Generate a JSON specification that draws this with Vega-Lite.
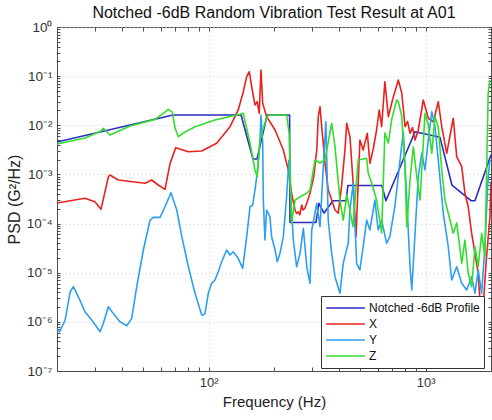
{
  "$schema": "https://vega.github.io/schema/vega-lite/v6.json",
  "width": 434,
  "height": 344,
  "autosize": "none",
  "padding": {"left": 57, "top": 27, "right": 1, "bottom": 49},
  "background": "white",
  "config": {
    "font": "Liberation Sans",
    "view": {"stroke": "#4d4d4d", "strokeWidth": 1}
  },
  "title": {
    "text": "Notched -6dB Random Vibration Test Result at A01",
    "fontSize": 16,
    "fontWeight": "normal",
    "color": "#111111",
    "font": "Liberation Sans",
    "offset": -1
  },
  "data": {"values": [
    {"s":"Notched -6dB Profile","f":20,"p":0.00457},
    {"s":"Notched -6dB Profile","f":68.5,"p":0.0162},
    {"s":"Notched -6dB Profile","f":141,"p":0.0162},
    {"s":"Notched -6dB Profile","f":160,"p":0.00206},
    {"s":"Notched -6dB Profile","f":167,"p":0.00206},
    {"s":"Notched -6dB Profile","f":186,"p":0.0162},
    {"s":"Notched -6dB Profile","f":236,"p":0.0162},
    {"s":"Notched -6dB Profile","f":237,"p":0.000105},
    {"s":"Notched -6dB Profile","f":312,"p":0.000105},
    {"s":"Notched -6dB Profile","f":322,"p":0.000258},
    {"s":"Notched -6dB Profile","f":340,"p":0.000164},
    {"s":"Notched -6dB Profile","f":374,"p":0.000292},
    {"s":"Notched -6dB Profile","f":430,"p":0.000292},
    {"s":"Notched -6dB Profile","f":438,"p":0.000595},
    {"s":"Notched -6dB Profile","f":628,"p":0.000595},
    {"s":"Notched -6dB Profile","f":656,"p":0.000292},
    {"s":"Notched -6dB Profile","f":893,"p":0.0074},
    {"s":"Notched -6dB Profile","f":1164,"p":0.00569},
    {"s":"Notched -6dB Profile","f":1321,"p":0.000609},
    {"s":"Notched -6dB Profile","f":1618,"p":0.000292},
    {"s":"Notched -6dB Profile","f":1687,"p":0.000292},
    {"s":"Notched -6dB Profile","f":2000,"p":0.0025},

    {"s":"X","f":20,"p":0.000262},
    {"s":"X","f":26.9,"p":0.000327},
    {"s":"X","f":29.9,"p":0.000279},
    {"s":"X","f":31.9,"p":0.000195},
    {"s":"X","f":34.5,"p":0.000899},
    {"s":"X","f":35.1,"p":0.000973},
    {"s":"X","f":38.3,"p":0.00077},
    {"s":"X","f":50.9,"p":0.000659},
    {"s":"X","f":54.6,"p":0.00077},
    {"s":"X","f":58.6,"p":0.000609},
    {"s":"X","f":62.9,"p":0.000498},
    {"s":"X","f":66.4,"p":0.00168},
    {"s":"X","f":70.5,"p":0.0035},
    {"s":"X","f":80.6,"p":0.0029},
    {"s":"X","f":92.9,"p":0.003},
    {"s":"X","f":108.8,"p":0.0043},
    {"s":"X","f":125.4,"p":0.00936},
    {"s":"X","f":136.8,"p":0.0205},
    {"s":"X","f":144.4,"p":0.0482},
    {"s":"X","f":149.7,"p":0.0975},
    {"s":"X","f":153.9,"p":0.123},
    {"s":"X","f":157.8,"p":0.061},
    {"s":"X","f":163.4,"p":0.0259},
    {"s":"X","f":167.4,"p":0.0302},
    {"s":"X","f":171,"p":0.0175},
    {"s":"X","f":174.2,"p":0.133},
    {"s":"X","f":177.4,"p":0.028},
    {"s":"X","f":184.9,"p":0.015},
    {"s":"X","f":202.3,"p":0.00802},
    {"s":"X","f":220.8,"p":0.00314},
    {"s":"X","f":232.8,"p":0.00123},
    {"s":"X","f":241.1,"p":0.000413},
    {"s":"X","f":250,"p":0.000189},
    {"s":"X","f":254,"p":0.00016},
    {"s":"X","f":258.8,"p":0.000174},
    {"s":"X","f":263,"p":0.00015},
    {"s":"X","f":268.5,"p":0.000239},
    {"s":"X","f":272,"p":0.00019},
    {"s":"X","f":278,"p":0.000207},
    {"s":"X","f":285,"p":0.00028},
    {"s":"X","f":293.1,"p":0.000413},
    {"s":"X","f":305,"p":0.0009},
    {"s":"X","f":314.8,"p":0.00314},
    {"s":"X","f":319.9,"p":0.015},
    {"s":"X","f":325.8,"p":0.0239},
    {"s":"X","f":331.9,"p":0.00936},
    {"s":"X","f":343.6,"p":0.00168},
    {"s":"X","f":355.6,"p":0.000482},
    {"s":"X","f":368.9,"p":0.000301},
    {"s":"X","f":382,"p":0.000189},
    {"s":"X","f":395.4,"p":0.000162},
    {"s":"X","f":410,"p":0.0006},
    {"s":"X","f":424.6,"p":0.00314},
    {"s":"X","f":432.5,"p":0.011},
    {"s":"X","f":447.7,"p":0.00586},
    {"s":"X","f":463.4,"p":0.000659},
    {"s":"X","f":477.5,"p":0.0000541},
    {"s":"X","f":497.7,"p":0.00501},
    {"s":"X","f":515.2,"p":0.00314},
    {"s":"X","f":538.3,"p":0.00687},
    {"s":"X","f":553.4,"p":0.00168},
    {"s":"X","f":572,"p":0.00314},
    {"s":"X","f":594.2,"p":0.00802},
    {"s":"X","f":611,"p":0.0205},
    {"s":"X","f":626.6,"p":0.00936},
    {"s":"X","f":648.6,"p":0.0771},
    {"s":"X","f":672.9,"p":0.015},
    {"s":"X","f":709.6,"p":0.0382},
    {"s":"X","f":748.2,"p":0.0834},
    {"s":"X","f":776.2,"p":0.0448},
    {"s":"X","f":803.5,"p":0.00936},
    {"s":"X","f":825,"p":0.012},
    {"s":"X","f":847.2,"p":0.00687},
    {"s":"X","f":870,"p":0.009},
    {"s":"X","f":893.3,"p":0.00501},
    {"s":"X","f":924.7,"p":0.00802},
    {"s":"X","f":975,"p":0.0327},
    {"s":"X","f":1028,"p":0.0139},
    {"s":"X","f":1084,"p":0.0118},
    {"s":"X","f":1143,"p":0.0302},
    {"s":"X","f":1186,"p":0.00936},
    {"s":"X","f":1250,"p":0.00269},
    {"s":"X","f":1340,"p":0.0139},
    {"s":"X","f":1390,"p":0.0023},
    {"s":"X","f":1466,"p":0.00144},
    {"s":"X","f":1517,"p":0.000413},
    {"s":"X","f":1570,"p":0.00022},
    {"s":"X","f":1629,"p":0.0000634},
    {"s":"X","f":1687,"p":0.0000248},
    {"s":"X","f":1746,"p":0.00000972},
    {"s":"X","f":1778,"p":0.00000278},
    {"s":"X","f":1841,"p":0.00000203},
    {"s":"X","f":1900,"p":0.0000167},
    {"s":"X","f":1977,"p":0.000138},
    {"s":"X","f":2000,"p":0.00067},

    {"s":"Y","f":20,"p":0.000000715},
    {"s":"Y","f":20.6,"p":0.00000063},
    {"s":"Y","f":21.8,"p":0.00000109},
    {"s":"Y","f":23,"p":0.0000041},
    {"s":"Y","f":23.8,"p":0.00000519},
    {"s":"Y","f":25.5,"p":0.00000278},
    {"s":"Y","f":26.9,"p":0.00000161},
    {"s":"Y","f":28.9,"p":0.00000109},
    {"s":"Y","f":31.6,"p":0.00000063},
    {"s":"Y","f":32.7,"p":0.000000934},
    {"s":"Y","f":34.5,"p":0.00000203},
    {"s":"Y","f":36.3,"p":0.00000149},
    {"s":"Y","f":39,"p":0.00000101},
    {"s":"Y","f":41.9,"p":0.000000834},
    {"s":"Y","f":44.2,"p":0.00000118},
    {"s":"Y","f":46.6,"p":0.00000519},
    {"s":"Y","f":50,"p":0.000029},
    {"s":"Y","f":53.7,"p":0.000118},
    {"s":"Y","f":55.6,"p":0.000134},
    {"s":"Y","f":59.7,"p":0.000134},
    {"s":"Y","f":62.9,"p":0.00022},
    {"s":"Y","f":67,"p":0.000425},
    {"s":"Y","f":71.3,"p":0.000189},
    {"s":"Y","f":75.2,"p":0.0000541},
    {"s":"Y","f":80.6,"p":0.0000132},
    {"s":"Y","f":86.5,"p":0.00000381},
    {"s":"Y","f":92.9,"p":0.00000138},
    {"s":"Y","f":94.4,"p":0.00000138},
    {"s":"Y","f":96.2,"p":0.00000149},
    {"s":"Y","f":99.6,"p":0.00000381},
    {"s":"Y","f":103.2,"p":0.00000608},
    {"s":"Y","f":106.9,"p":0.0000071},
    {"s":"Y","f":110.7,"p":0.0000105},
    {"s":"Y","f":114.8,"p":0.0000167},
    {"s":"Y","f":121,"p":0.000029},
    {"s":"Y","f":125.4,"p":0.0000229},
    {"s":"Y","f":129.8,"p":0.0000267},
    {"s":"Y","f":136.8,"p":0.0000196},
    {"s":"Y","f":143.5,"p":0.0000123},
    {"s":"Y","f":149.7,"p":0.0000541},
    {"s":"Y","f":155,"p":0.00022},
    {"s":"Y","f":159.5,"p":0.000239},
    {"s":"Y","f":163.4,"p":0.000482},
    {"s":"Y","f":167.4,"p":0.00105},
    {"s":"Y","f":172.2,"p":0.0043},
    {"s":"Y","f":174.2,"p":0.0162},
    {"s":"Y","f":177.4,"p":0.00436},
    {"s":"Y","f":178.6,"p":0.000301},
    {"s":"Y","f":181.7,"p":0.0000463},
    {"s":"Y","f":184.9,"p":0.000189},
    {"s":"Y","f":191.5,"p":0.000138},
    {"s":"Y","f":195,"p":0.0000541},
    {"s":"Y","f":202.3,"p":0.000029},
    {"s":"Y","f":207,"p":0.0000167},
    {"s":"Y","f":213.1,"p":0.0000248},
    {"s":"Y","f":220.8,"p":0.0000541},
    {"s":"Y","f":228.6,"p":0.000352},
    {"s":"Y","f":234.4,"p":0.00197},
    {"s":"Y","f":239.3,"p":0.000301},
    {"s":"Y","f":245.5,"p":0.0000463},
    {"s":"Y","f":254.3,"p":0.0000132},
    {"s":"Y","f":263.6,"p":0.0000248},
    {"s":"Y","f":273.1,"p":0.0000801},
    {"s":"Y","f":283.1,"p":0.0000132},
    {"s":"Y","f":293.1,"p":0.00000608},
    {"s":"Y","f":298.5,"p":0.000074},
    {"s":"Y","f":314.8,"p":0.000258},
    {"s":"Y","f":325.8,"p":0.0000863},
    {"s":"Y","f":346.7,"p":0.0118},
    {"s":"Y","f":355.6,"p":0.000118},
    {"s":"Y","f":368.9,"p":0.0000248},
    {"s":"Y","f":382,"p":0.0000083},
    {"s":"Y","f":402.7,"p":0.00000381},
    {"s":"Y","f":416.9,"p":0.0000155},
    {"s":"Y","f":439.5,"p":0.0000396},
    {"s":"Y","f":447.7,"p":0.000189},
    {"s":"Y","f":463.4,"p":0.000659},
    {"s":"Y","f":480.8,"p":0.0000155},
    {"s":"Y","f":497.7,"p":0.0000114},
    {"s":"Y","f":515.2,"p":0.0000338},
    {"s":"Y","f":534.6,"p":0.000118},
    {"s":"Y","f":553.4,"p":0.000074},
    {"s":"Y","f":583.4,"p":0.000301},
    {"s":"Y","f":604,"p":0.000074},
    {"s":"Y","f":626.6,"p":0.000118},
    {"s":"Y","f":660.7,"p":0.0000396},
    {"s":"Y","f":683.9,"p":0.0000541},
    {"s":"Y","f":722.8,"p":0.000239},
    {"s":"Y","f":762.1,"p":0.00197},
    {"s":"Y","f":788.9,"p":0.0074},
    {"s":"Y","f":818.4,"p":0.000301},
    {"s":"Y","f":847.2,"p":0.0000132},
    {"s":"Y","f":863,"p":0.00000445},
    {"s":"Y","f":893.3,"p":0.0000634},
    {"s":"Y","f":924.7,"p":0.000899},
    {"s":"Y","f":959.4,"p":0.00269},
    {"s":"Y","f":993.1,"p":0.00123},
    {"s":"Y","f":1028,"p":0.00501},
    {"s":"Y","f":1067,"p":0.0189},
    {"s":"Y","f":1104,"p":0.00936},
    {"s":"Y","f":1143,"p":0.00197},
    {"s":"Y","f":1205,"p":0.000162},
    {"s":"Y","f":1271,"p":0.0000338},
    {"s":"Y","f":1318,"p":0.0000071},
    {"s":"Y","f":1390,"p":0.0000132},
    {"s":"Y","f":1466,"p":0.00000608},
    {"s":"Y","f":1545,"p":0.00000445},
    {"s":"Y","f":1629,"p":0.0000083},
    {"s":"Y","f":1687,"p":0.00000381},
    {"s":"Y","f":1746,"p":0.0000114},
    {"s":"Y","f":1811,"p":0.00000381},
    {"s":"Y","f":1875,"p":0.0000338},
    {"s":"Y","f":1941,"p":0.000899},
    {"s":"Y","f":1977,"p":0.00197},

    {"s":"Z","f":20,"p":0.00416},
    {"s":"Z","f":26.9,"p":0.00551},
    {"s":"Z","f":31.9,"p":0.00765},
    {"s":"Z","f":32.7,"p":0.00868},
    {"s":"Z","f":35.1,"p":0.00634},
    {"s":"Z","f":43.4,"p":0.00967},
    {"s":"Z","f":56.6,"p":0.0132},
    {"s":"Z","f":62.9,"p":0.0186},
    {"s":"Z","f":65.2,"p":0.0211},
    {"s":"Z","f":68,"p":0.0186},
    {"s":"Z","f":70,"p":0.00881},
    {"s":"Z","f":72.5,"p":0.00586},
    {"s":"Z","f":77.8,"p":0.0073},
    {"s":"Z","f":86.5,"p":0.00936},
    {"s":"Z","f":106.9,"p":0.0128},
    {"s":"Z","f":139.4,"p":0.0167},
    {"s":"Z","f":144.4,"p":0.0175},
    {"s":"Z","f":155,"p":0.00436},
    {"s":"Z","f":163.4,"p":0.00123},
    {"s":"Z","f":167.4,"p":0.000899},
    {"s":"Z","f":172.2,"p":0.00501},
    {"s":"Z","f":181.7,"p":0.0111},
    {"s":"Z","f":188.3,"p":0.0162},
    {"s":"Z","f":228.6,"p":0.0162},
    {"s":"Z","f":234.8,"p":0.00697},
    {"s":"Z","f":241.1,"p":0.000103},
    {"s":"Z","f":250,"p":0.000301},
    {"s":"Z","f":263.6,"p":0.000352},
    {"s":"Z","f":283.1,"p":0.000413},
    {"s":"Z","f":293.1,"p":0.000482},
    {"s":"Z","f":309,"p":0.00197},
    {"s":"Z","f":325.8,"p":0.00171},
    {"s":"Z","f":343.6,"p":0.00197},
    {"s":"Z","f":368.9,"p":0.011},
    {"s":"Z","f":382,"p":0.00366},
    {"s":"Z","f":402.7,"p":0.000301},
    {"s":"Z","f":416.9,"p":0.000118},
    {"s":"Z","f":433.5,"p":0.000381},
    {"s":"Z","f":462.4,"p":0.0000863},
    {"s":"Z","f":488.7,"p":0.00197},
    {"s":"Z","f":534.6,"p":0.00213},
    {"s":"Z","f":543.3,"p":0.00107},
    {"s":"Z","f":563.6,"p":0.000669},
    {"s":"Z","f":594.2,"p":0.000301},
    {"s":"Z","f":626.6,"p":0.0000643},
    {"s":"Z","f":648.6,"p":0.00697},
    {"s":"Z","f":672.9,"p":0.00436},
    {"s":"Z","f":696.6,"p":0.0128},
    {"s":"Z","f":734.5,"p":0.0327},
    {"s":"Z","f":748.2,"p":0.0302},
    {"s":"Z","f":776.2,"p":0.015},
    {"s":"Z","f":803.5,"p":0.00123},
    {"s":"Z","f":818.4,"p":0.0000863},
    {"s":"Z","f":847.2,"p":0.00077},
    {"s":"Z","f":877,"p":0.00366},
    {"s":"Z","f":909.9,"p":0.000899},
    {"s":"Z","f":941.9,"p":0.000301},
    {"s":"Z","f":975,"p":0.0043},
    {"s":"Z","f":993.1,"p":0.0175},
    {"s":"Z","f":1028,"p":0.0101},
    {"s":"Z","f":1067,"p":0.00269},
    {"s":"Z","f":1104,"p":0.015},
    {"s":"Z","f":1143,"p":0.00936},
    {"s":"Z","f":1186,"p":0.00123},
    {"s":"Z","f":1227,"p":0.000301},
    {"s":"Z","f":1294,"p":0.000118},
    {"s":"Z","f":1340,"p":0.0000634},
    {"s":"Z","f":1390,"p":0.000103},
    {"s":"Z","f":1466,"p":0.0000157},
    {"s":"Z","f":1517,"p":0.0000463},
    {"s":"Z","f":1570,"p":0.00000986},
    {"s":"Z","f":1629,"p":0.00000519},
    {"s":"Z","f":1687,"p":0.0000338},
    {"s":"Z","f":1746,"p":0.0000132},
    {"s":"Z","f":1811,"p":0.0000634},
    {"s":"Z","f":1875,"p":0.0000212},
    {"s":"Z","f":1941,"p":0.0448},
    {"s":"Z","f":1977,"p":0.0834}
  ]},
  "layer": [
    {
      "mark": {"type": "line", "strokeWidth": 1.6, "clip": true, "strokeJoin": "round"},
      "encoding": {
        "x": {
          "field": "f", "type": "quantitative",
          "scale": {"type": "log", "domain": [20, 2000], "nice": false},
          "axis": {
            "title": "Frequency (Hz)",
            "titleFontSize": 15,
            "titleFontWeight": "normal",
            "titleColor": "#222222",
            "titlePadding": 5,
            "values": [20,30,40,50,60,70,80,90,100,200,300,400,500,600,700,800,900,1000,2000],
            "labelExpr": "datum.value == 100 ? '10²' : datum.value == 1000 ? '10³' : ''",
            "labelFontSize": 13,
            "labelColor": "#333333",
            "labelPadding": 9,
            "labelOverlap": false,
            "labelFlush": false,
            "tickSize": -4,
            "tickColor": "#4d4d4d",
            "domainColor": "#4d4d4d",
            "grid": true,
            "gridColor": "#cfcfcf",
            "gridDash": [1, 3],
            "gridOpacity": {"condition": {"test": "datum.value == 100 || datum.value == 1000", "value": 1}, "value": 0}
          }
        },
        "y": {
          "field": "p", "type": "quantitative",
          "scale": {"type": "log", "domain": [0.0000001, 1], "nice": false},
          "axis": {
            "title": "PSD (G²/Hz)",
            "titleFontSize": 16,
            "titleFontWeight": "normal",
            "titleColor": "#222222",
            "titlePadding": 4,
            "values": [0.0000001,0.0000002,0.0000003,0.0000004,0.0000005,0.0000006,0.0000007,0.0000008,0.0000009,
                       0.000001,0.000002,0.000003,0.000004,0.000005,0.000006,0.000007,0.000008,0.000009,
                       0.00001,0.00002,0.00003,0.00004,0.00005,0.00006,0.00007,0.00008,0.00009,
                       0.0001,0.0002,0.0003,0.0004,0.0005,0.0006,0.0007,0.0008,0.0009,
                       0.001,0.002,0.003,0.004,0.005,0.006,0.007,0.008,0.009,
                       0.01,0.02,0.03,0.04,0.05,0.06,0.07,0.08,0.09,
                       0.1,0.2,0.3,0.4,0.5,0.6,0.7,0.8,0.9,1],
            "labelExpr": "datum.value == 1 ? '10⁰' : datum.value == 0.1 ? '10⁻¹' : datum.value == 0.01 ? '10⁻²' : datum.value == 0.001 ? '10⁻³' : datum.value == 0.0001 ? '10⁻⁴' : datum.value == 0.00001 ? '10⁻⁵' : datum.value == 0.000001 ? '10⁻⁶' : datum.value == 0.0000001 ? '10⁻⁷' : ''",
            "labelFontSize": 13.5,
            "labelColor": "#333333",
            "labelPadding": 8,
            "labelOverlap": false,
            "labelFlush": false,
            "tickSize": -3,
            "tickColor": "#4d4d4d",
            "domainColor": "#4d4d4d",
            "grid": true,
            "gridColor": "#cfcfcf",
            "gridDash": [1, 3],
            "gridOpacity": {"condition": {"test": "abs(log(datum.value)/LN10 - round(log(datum.value)/LN10)) < 0.001", "value": 1}, "value": 0}
          }
        },
        "color": {
          "field": "s", "type": "nominal",
          "scale": {
            "domain": ["Notched -6dB Profile", "X", "Y", "Z"],
            "range": ["#2b2bc4", "#e8221e", "#2e9ef0", "#33dd2e"]
          },
          "legend": {
            "title": null,
            "orient": "none",
            "legendX": 264,
            "legendY": 269,
            "symbolType": "stroke",
            "symbolSize": 1500,
            "symbolStrokeWidth": 1.6,
            "labelFontSize": 12,
            "labelColor": "#111111",
            "labelOffset": 3,
            "clipHeight": 16,
            "rowPadding": 0,
            "padding": 4,
            "strokeColor": "#333333",
            "fillColor": "white",
            "cornerRadius": 0
          }
        }
      }
    },
    {
      "mark": {"type": "line", "opacity": 0, "clip": true},
      "encoding": {
        "x": {
          "field": "f", "type": "quantitative",
          "scale": {"type": "log", "domain": [20, 2000], "nice": false},
          "axis": {
            "orient": "top",
            "title": null,
            "labels": false,
            "grid": false,
            "domain": false,
            "values": [20,30,40,50,60,70,80,90,100,200,300,400,500,600,700,800,900,1000,2000],
            "tickSize": -4,
            "tickColor": "#4d4d4d"
          }
        },
        "y": {
          "field": "p", "type": "quantitative",
          "scale": {"type": "log", "domain": [0.0000001, 1], "nice": false},
          "axis": {
            "orient": "right",
            "title": null,
            "labels": false,
            "grid": false,
            "domain": false,
            "values": [0.0000001,0.0000002,0.0000003,0.0000004,0.0000005,0.0000006,0.0000007,0.0000008,0.0000009,
                       0.000001,0.000002,0.000003,0.000004,0.000005,0.000006,0.000007,0.000008,0.000009,
                       0.00001,0.00002,0.00003,0.00004,0.00005,0.00006,0.00007,0.00008,0.00009,
                       0.0001,0.0002,0.0003,0.0004,0.0005,0.0006,0.0007,0.0008,0.0009,
                       0.001,0.002,0.003,0.004,0.005,0.006,0.007,0.008,0.009,
                       0.01,0.02,0.03,0.04,0.05,0.06,0.07,0.08,0.09,
                       0.1,0.2,0.3,0.4,0.5,0.6,0.7,0.8,0.9,1],
            "tickSize": -3,
            "tickColor": "#4d4d4d"
          }
        }
      }
    }
  ],
  "resolve": {"axis": {"x": "independent", "y": "independent"}}
}
